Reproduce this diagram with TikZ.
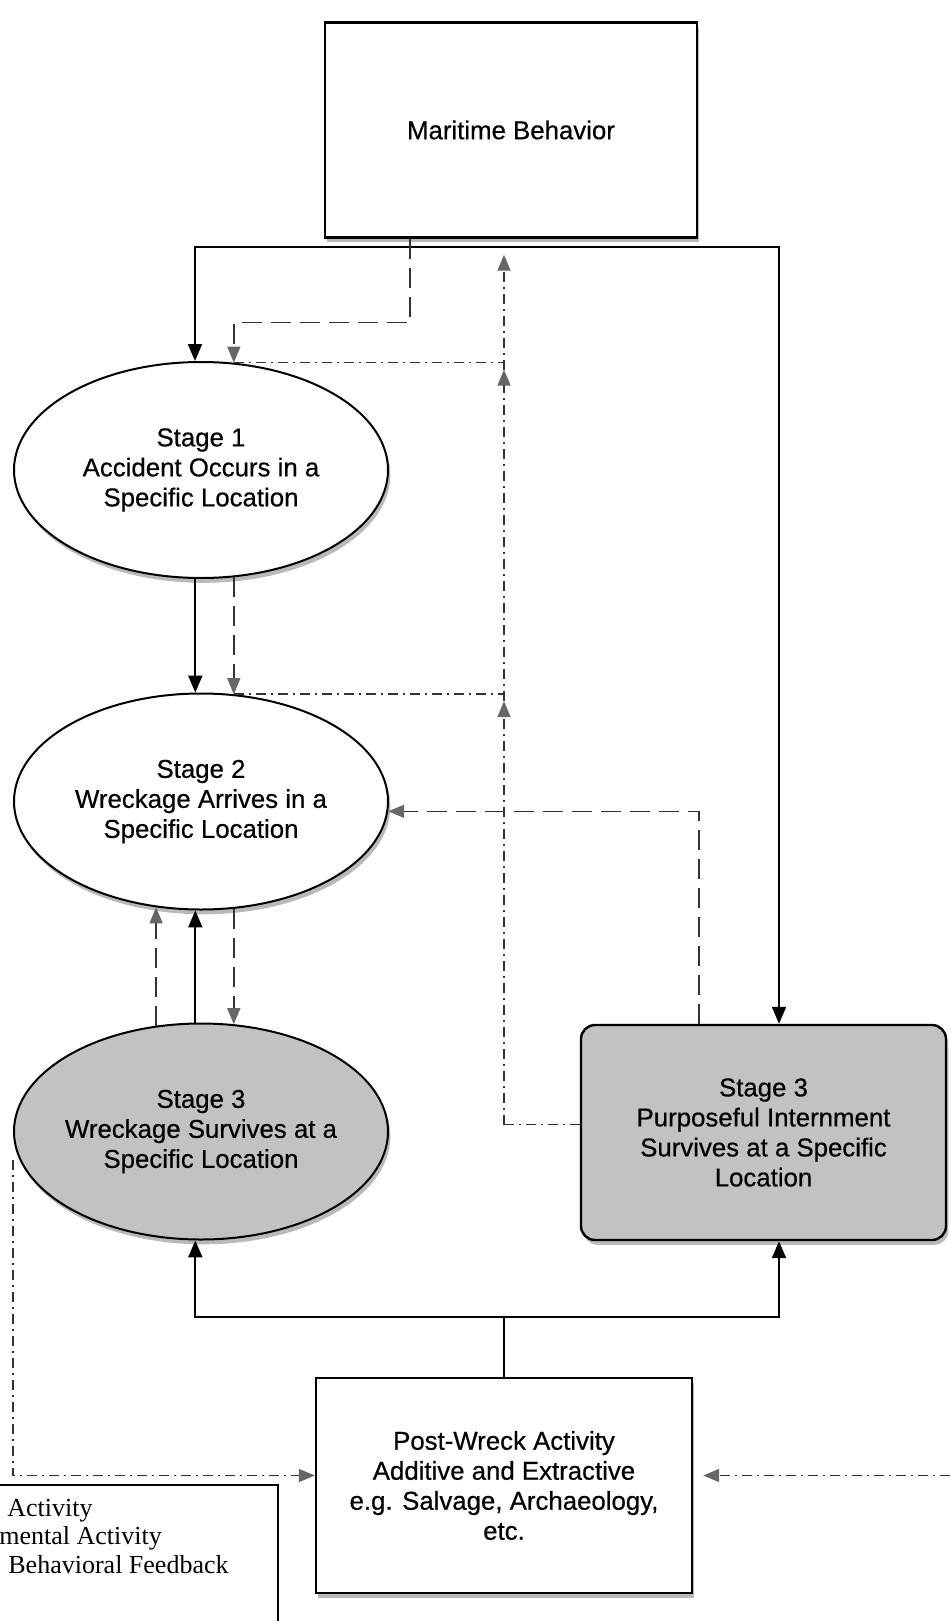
\documentclass[tikz,border=0pt]{standalone}
\usepackage{fontspec}
\setmainfont{Liberation Sans}
\newfontfamily\diagfont{Liberation Sans}[FakeBold = 0.5]
\newfontfamily\legendfont{Liberation Serif}
\usetikzlibrary{shapes.geometric, shadows, arrows.meta}

\begin{document}
\begin{tikzpicture}[x = 0.5pt, y = -0.5pt,
    every node/.style = {align = center, inner sep = 0pt, font = \diagfont\fontsize{12.9}{15}\selectfont},
    boxshadow/.style = {drop shadow = {opacity = 0.55, shadow xshift = 1.2pt, shadow yshift = -2.4pt}},
    stage/.style = {shape = ellipse, draw, line width = 1pt, fill = white, inner xsep = -12pt,
        minimum width = 187pt, minimum height = 108pt, boxshadow},
    block/.style = {shape = rectangle, draw, line width = 1.2pt, fill = white, minimum width = 186pt, minimum height = 107.5pt, boxshadow},
    act/.style = {line width = 1pt, -{Triangle[length = 8.5pt, width = 7pt]}},
    env/.style = {line width = 0.8pt, black!80, dash pattern = on 10pt off 4.5pt},
    fb/.style = {line width = 0.8pt, black!80, dash pattern = on 5pt off 2.5pt on 1pt off 2.5pt},
    ghead/.style = {-{Triangle[length = 8pt, width = 6.5pt, color = black!60]}}]
    \useasboundingbox (0, 0) rectangle (950, 1621);
    \clip (0, 0) rectangle (950, 1621);

    \node[block] (mb) at (511, 130) {Maritime Behavior};
    \node[stage] (s1) at (201, 470) {Stage 1\\Accident Occurs in a\\Specific Location};
    \node[stage] (s2) at (201, 801.5) {Stage 2\\Wreckage Arrives in a\\Specific Location};
    \node[stage, fill = black!24] (s3) at (201, 1131.5) {Stage 3\\Wreckage Survives at a\\Specific Location};
    \node[block, rounded corners = 7pt, fill = black!24, minimum width = 182.5pt] (p3) at (763.5, 1132.5)
        {Stage 3\\Purposeful Internment\\Survives at a Specific\\Location};
    \node[block, minimum width = 188pt] (post) at (504, 1485.5)
        {Post-Wreck Activity\\Additive and Extractive\\e.g. Salvage, Archaeology,\\etc.};

    \coordinate (bus) at ([yshift = -4pt]mb.south);
    \draw[act] (bus) -| ([xshift = -3pt]s1.north);
    \draw[act] (bus) -| ([xshift = 7.75pt]p3.north);
    \draw[act] (s1.-93.2) -- (s2.93.2);
    \draw[act] (s3.93.2) -- (s2.-93.2);
    \draw[line width = 1pt] (post.north) -- ++(0, -60) coordinate (pbus);
    \draw[act] (pbus) -| (s3.-93.2);
    \draw[act] (pbus) -| ([xshift = 7.75pt]p3.south);

    \coordinate (envc) at ([yshift = 20pt]s1.73.3);
    \draw[env, ghead] ([xshift = -50.5pt]mb.south) |- (envc) -- (s1.73.3);
    \draw[env, ghead] (s1.-73.3) -- (s2.73.3);
    \draw[env, ghead] (s2.-73.3) -- (s3.73.3);
    \draw[env, ghead] (s3.113.7) -- (s2.-113.7);
    \draw[env, ghead] ([xshift = -32.25pt]p3.north) |- (s2.-3.4);

    \path ([yshift = 4pt]p3.west) coordinate (p3fb);
    \coordinate (fb0) at (post.north |- p3fb);
    \coordinate (fb2) at (fb0 |- s2.73.3);
    \coordinate (fb1) at (fb0 |- s1.73.3);
    \coordinate (fbt) at (fb0 |- mb.south);
    \draw[fb] (p3fb) -- (fb0);
    \draw[fb, ghead] (fb0) -- ([yshift = -3.5pt]fb2);
    \draw[fb, ghead] ([yshift = -3.5pt]fb2) -- ([yshift = -3.5pt]fb1);
    \draw[fb, ghead] ([yshift = -3.5pt]fb1) -- ([yshift = -8pt]fbt);
    \draw[fb] (s1.73.3) -- (fb1);
    \draw[fb] (s2.73.3) -- (fb2);
    \draw[fb, ghead] ([yshift = -14pt]s3.west) |- ([yshift = 5pt]post.west);
    \coordinate (rt) at (950, 1475.5);
    \draw[fb, ghead, shorten > = 5pt] (rt) -- ([yshift = 5pt]post.east);

    \draw[line width = 0.8pt] (-10, 1485) rectangle (278, 1640);
    \node[anchor = base west, font = \legendfont\fontsize{13}{15}\selectfont] (leg1) at (7, 1516) {Activity};
    \node[anchor = base west, font = \legendfont\fontsize{13}{15}\selectfont] (leg2) at (-1, 1544) {mental Activity};
    \node[anchor = base west, font = \legendfont\fontsize{13}{15}\selectfont] (leg3) at (8, 1573) {Behavioral Feedback};
\end{tikzpicture}
\end{document}
